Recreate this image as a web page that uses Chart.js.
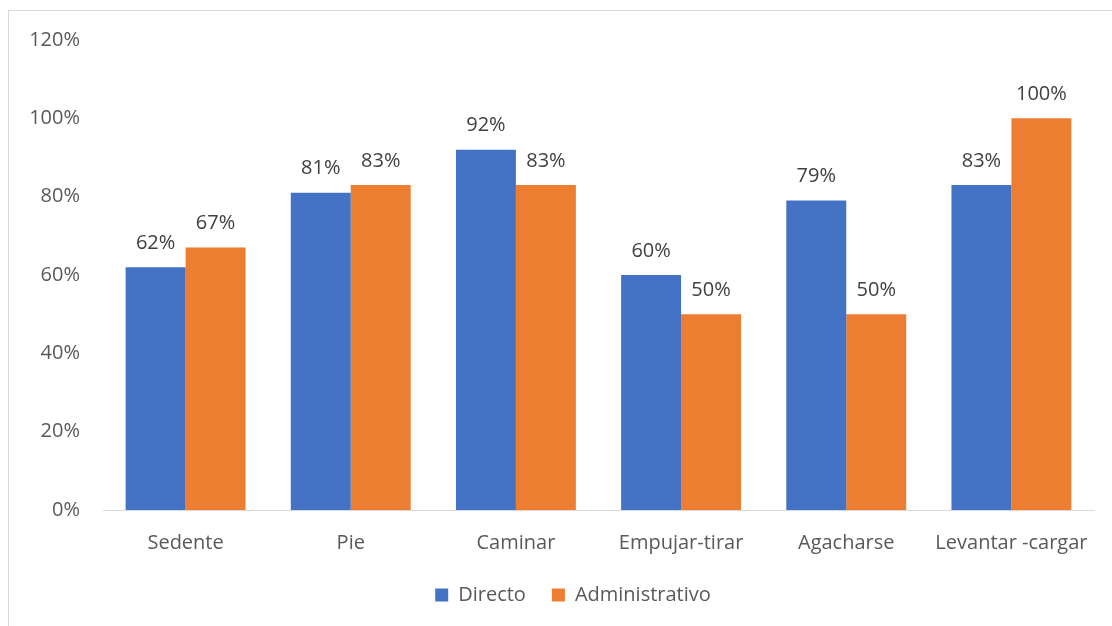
<!DOCTYPE html>
<html>
<head>
<meta charset="utf-8">
<script src="https://cdn.jsdelivr.net/npm/chart.js@4/dist/chart.umd.min.js"></script>
<style>
  html, body { margin: 0; padding: 0; background: #fff; overflow: hidden; }
  #frame {
    position: absolute; left: 8px; top: 10px; width: 1200px; height: 700px;
    border: 1px solid #d9d9d9;
  }
  #wrap { position: absolute; left: 0; top: 0; width: 1112px; height: 626px; }
</style>
</head>
<body>
<div id="frame"></div>
<div id="wrap"><canvas id="chart" width="1112" height="626"></canvas></div>
<script>
const categories = ['Sedente', 'Pie', 'Caminar', 'Empujar-tirar', 'Agacharse', 'Levantar -cargar'];
const directo = [62, 81, 92, 60, 79, 83];
const administrativo = [67, 83, 83, 50, 50, 100];
const yTicks = [0, 20, 40, 60, 80, 100, 120];

const FONT = '"Open Sans", Lato, sans-serif';
const SIZE = 20;

// value labels above each bar
const barLabels = {
    id: 'barLabels',
    afterDatasetsDraw(chart) {
        const ctx = chart.ctx;
        ctx.save();
        ctx.font = SIZE + 'px ' + FONT;
        ctx.fillStyle = '#404040';
        ctx.textAlign = 'center';
        ctx.textBaseline = 'middle';
        chart.data.datasets.forEach((ds, i) => {
            chart.getDatasetMeta(i).data.forEach((bar, j) => {
                ctx.fillText(ds.data[j] + '%', bar.x, bar.y - 24);
            });
        });
        ctx.restore();
    }
};

// nudge the legend a bit to the right of centre
const legendShift = {
    id: 'legendShift',
    afterLayout(chart) {
        chart.legend.left += 26;
        chart.legend.right += 26;
    }
};

new Chart(document.getElementById('chart'), {
    type: 'bar',
    data: {
        labels: categories,
        datasets: [
            { label: 'Directo', data: directo, backgroundColor: '#4472C4' },
            { label: 'Administrativo', data: administrativo, backgroundColor: '#ED7D31' }
        ]
    },
    options: {
        responsive: false,
        animation: false,
        layout: { padding: { left: 0, right: 18, top: 40, bottom: 11 } },
        datasets: { bar: { categoryPercentage: 0.726, barPercentage: 1.0 } },
        plugins: {
            tooltip: { enabled: false },
            legend: {
                position: 'bottom',
                labels: {
                    color: '#595959',
                    font: { family: FONT, size: SIZE },
                    boxWidth: 13,
                    boxHeight: 13,
                    padding: 26
                }
            }
        },
        scales: {
            x: {
                grid: { display: false, drawTicks: false },
                border: { display: true, color: '#d9d9d9', width: 1 },
                ticks: { color: '#595959', font: { family: FONT, size: SIZE }, padding: 21, maxRotation: 0 },
                afterFit(scale) { scale.height = 49; }
            },
            y: {
                min: 0,
                max: 120,
                afterBuildTicks(scale) { scale.ticks = yTicks.map(v => ({ value: v })); },
                grid: { display: false, drawTicks: false },
                border: { display: false },
                ticks: {
                    color: '#595959',
                    font: { family: FONT, size: SIZE },
                    padding: 23,
                    callback: v => v + '%'
                },
                afterFit(scale) { scale.width = 103; }
            }
        }
    },
    plugins: [barLabels, legendShift]
});
</script>
</body>
</html>
